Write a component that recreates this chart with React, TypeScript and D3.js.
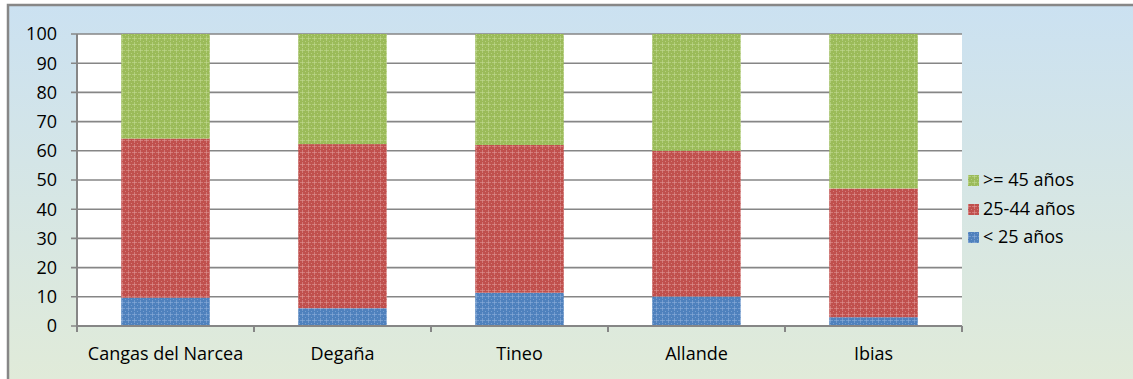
import React from "react";
import * as d3 from "d3";

const categories = ["Cangas del Narcea", "Degaña", "Tineo", "Allande", "Ibias"];
const under25 = [9.7, 6.1, 11.4, 10.1, 3.0];
const age25to44 = [54.5, 56.2, 50.6, 49.9, 44.1];
const over45 = [35.8, 37.7, 38.0, 40.0, 52.9];
const seriesNames = ["< 25 años", "25-44 años", ">= 45 años"];
const yTicks = [0, 10, 20, 30, 40, 50, 60, 70, 80, 90, 100];

const colors = ["#4f81bd", "#c0504d", "#9bbb59"];
const lights = ["#8fb0dc", "#e09a98", "#c4dc96"];

const W = 1133;
const H = 379;
const plot = { left: 77, right: 962, top: 34, bottom: 326 };
const font = "'Open Sans', sans-serif";

export default function App() {
  const x = d3.scaleBand().domain(categories).range([plot.left, plot.right]).paddingInner(0.5).paddingOuter(0.25);
  const y = d3.scaleLinear().domain([0, 100]).range([plot.bottom, plot.top]);
  const band = d3.scaleBand().domain(categories).range([plot.left, plot.right]);
  const rows = categories.map((c, i) => ({ cat: c, s0: under25[i], s1: age25to44[i], s2: over45[i] }));
  const stack = d3.stack<any>().keys(["s0", "s1", "s2"])(rows);
  const boundaries = d3.range(categories.length + 1).map((i) => plot.left + i * band.step());
  const legendY = [237, 209, 180];

  return (
    <svg width={W} height={H} style={{ position: "absolute", left: 0, top: 0 }} fontFamily={font}>
      <defs>
        <linearGradient id="bg" x1="0" y1="0" x2="0" y2="1">
          <stop offset="0" stopColor="#cbe1f1" />
          <stop offset="1" stopColor="#e1ebd8" />
        </linearGradient>
        {colors.map((c, i) => (
          <pattern key={i} id={`pat${i}`} width={6} height={6} patternUnits="userSpaceOnUse">
            <rect width={6} height={6} fill={c} />
            <rect x={0} y={2} width={5} height={1} fill={lights[i]} opacity={0.55} />
            <rect x={2} y={0} width={1} height={5} fill={lights[i]} opacity={0.55} />
            <rect x={5} y={5} width={1} height={1} fill={lights[i]} opacity={0.6} />
          </pattern>
        ))}
      </defs>
      <rect x={8} y={5} width={W + 10} height={H + 10} fill="url(#bg)" stroke="#878787" strokeWidth={2.5} />
      <rect x={plot.left} y={plot.top} width={plot.right - plot.left} height={plot.bottom - plot.top} fill="#ffffff" />
      {yTicks.map((t) => (
        <line key={t} x1={plot.left - 6} x2={plot.right} y1={y(t)} y2={y(t)} stroke="#868686" strokeWidth={1.6} />
      ))}
      {stack.map((s, si) =>
        s.map((d: any, i: number) => (
          <rect
            key={`${si}-${i}`}
            x={x(categories[i])}
            y={y(d[1])}
            width={x.bandwidth()}
            height={y(d[0]) - y(d[1])}
            fill={`url(#pat${si})`}
          />
        ))
      )}
      <line x1={plot.left} x2={plot.left} y1={plot.top} y2={plot.bottom + 6} stroke="#868686" strokeWidth={2} />
      <line x1={plot.left} x2={plot.right} y1={plot.bottom} y2={plot.bottom} stroke="#868686" strokeWidth={2} />
      {boundaries.map((b, i) => (
        <line key={i} x1={b} x2={b} y1={plot.bottom} y2={plot.bottom + 6} stroke="#868686" strokeWidth={2} />
      ))}
      {yTicks.map((t) => (
        <text key={t} x={57} y={y(t)} dy="0.36em" textAnchor="end" fontSize={18} fill="#000">
          {t}
        </text>
      ))}
      {categories.map((c) => (
        <text key={c} x={(band(c) as number) + band.bandwidth() / 2} y={360} textAnchor="middle" fontSize={18} fill="#000">
          {c}
        </text>
      ))}
      {seriesNames.map((n, i) => (
        <g key={n}>
          <rect x={968} y={legendY[i] - 5} width={11} height={11} fill={`url(#pat${i})`} />
          <text x={983} y={legendY[i]} dy="0.36em" fontSize={18} fill="#000">
            {n}
          </text>
        </g>
      ))}
    </svg>
  );
}
